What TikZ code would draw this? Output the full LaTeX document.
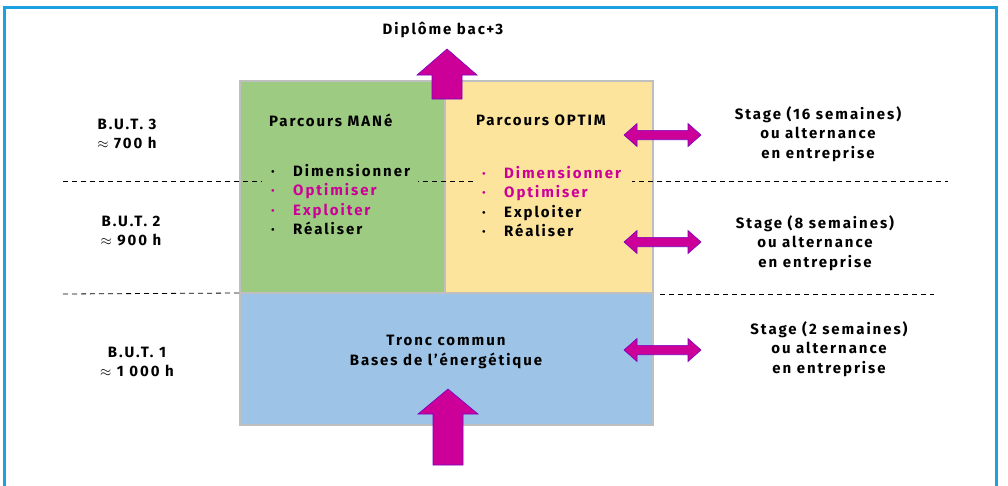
\documentclass[tikz,border=0pt]{standalone}
\usepackage{fontspec}
\setmainfont{Fira Sans}[LetterSpace=13]
\usetikzlibrary{positioning}
\definecolor{cadre}{HTML}{1BA1E2}
\definecolor{vert}{HTML}{9DCB82}
\definecolor{jaune}{HTML}{FDE49D}
\definecolor{bleu}{HTML}{9DC3E6}
\definecolor{gris}{HTML}{BFBFBF}
\definecolor{rose}{HTML}{CC0099}
\newcommand{\puce}[1]{\makebox[22pt][l]{\textperiodcentered}#1}

\begin{document}
\begin{tikzpicture}[x=1pt, y=-1pt, font=\bfseries\fontsize{15}{19.5}\selectfont,
    txt/.style={inner sep=0pt, align=center},
    bloc/.style={draw=gris, line width=2.5pt},
    liste/.style={anchor=north west, inner xsep=9pt, inner ysep=2pt, align=left},
    fleche/.style={fill=rose, draw=rose!60!blue, line width=0.6pt},
    pointille/.style={dash pattern=on 5pt off 4pt, line width=0.8pt}]
  \useasboundingbox[fill=white] (0,0) rectangle (1008,485);
  \draw[cadre, line width=3pt] (4,487) -- (4,7) -- (996,7) -- (996,487);

  % les trois blocs
  \filldraw[bloc, fill=vert] (240,81) coordinate (VNW) rectangle (445,293) coordinate (VSE);
  \filldraw[bloc, fill=jaune] (445,81) coordinate (JNW) rectangle (653,293) coordinate (JSE);
  \filldraw[bloc, fill=bleu] (240,293) coordinate (BNW) rectangle (653,425) coordinate (BSE);

  % separations entre annees
  \draw[pointille] (63,181) -- (948,181);
  \draw[pointille] (63,294) -- (BNW);
  \draw[pointille] (660,294) -- (934,294);

  \node[txt] (diplome) at (443,30) {Diplôme bac+3};
  \node[txt] (but3) at (127,134) {B.U.T. 3\\$\approx$ 700 h};
  \node[txt] (but2) at (131,231) {B.U.T. 2\\$\approx$ 900 h};
  \node[txt] (but1) at (137,362) {B.U.T. 1\\$\approx$ 1 000 h};

  \node[txt, anchor=west] (parcMane) at (269,120) {Parcours MANé};
  \node[liste, fill=vert, text width=138pt] (listeMane) at (262,162)
    {\puce{Dimensionner}\\{\color{rose}\puce{Optimiser}}\\{\color{rose}\puce{Exploiter}}\\\puce{Réaliser}};
  \node[txt, anchor=west] (parcOptim) at (476,120) {Parcours OPTIM};
  \node[liste, fill=jaune, text width=141pt] (listeOptim) at (473,164)
    {{\color{rose}\puce{Dimensionner}}\\{\color{rose}\puce{Optimiser}}\\\puce{Exploiter}\\\puce{Réaliser}};
  \node[txt] (tronc) at (446,352) {Tronc commun\\Bases de l’énergétique};

  \node[txt] (stage3) at (818,134) {Stage (16 semaines)\\ou alternance\\en entreprise};
  \node[txt] (stage2) at (815,243) {Stage (8 semaines)\\ou alternance\\en entreprise};
  \node[txt] (stage1) at (829,349) {Stage (2 semaines)\\ou alternance\\en entreprise};

  % fleches
  \filldraw[fleche] (432,99) -- (432,75) -- (417,75) -- (447,49) -- (477,75) -- (462,75) -- (462,99) -- cycle;
  \filldraw[fleche] (433,465) -- (433,414) -- (418,414) -- (448,389) -- (478,414) -- (463,414) -- (463,465) -- cycle;
  \foreach \c in {135,242,350}
    \filldraw[fleche] (624,\c) -- ++(13,-11.5) -- ++(0,6.8) -- ++(51,0) -- ++(0,-6.8)
      -- ++(13,11.5) -- ++(-13,11.5) -- ++(0,-6.8) -- ++(-51,0) -- ++(0,6.8) -- cycle;
\end{tikzpicture}
\end{document}
